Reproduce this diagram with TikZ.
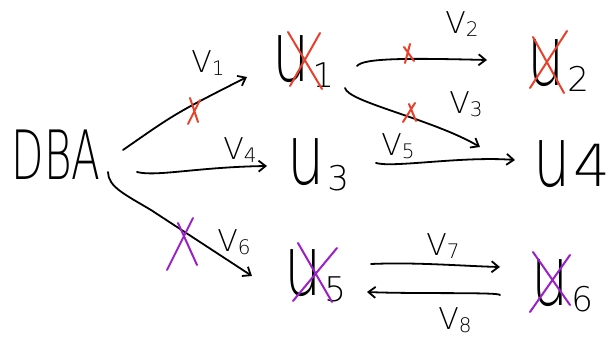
\documentclass[tikz,border=0pt]{standalone}
\usepackage{fontspec}
\setmainfont{DejaVu Sans ExtraLight}
\usetikzlibrary{calc,arrows.meta}
\definecolor{xred}{HTML}{E8402A}
\definecolor{xpurple}{HTML}{9B20C8}
\newcommand{\bigu}{\scalebox{0.7}[1]{\fontsize{84}{84}\selectfont u}}
\newcommand{\unode}[1]{\bigu\hspace{3pt}\raisebox{-6pt}{\fontsize{34}{34}\selectfont #1}}
\newcommand{\vlab}[1]{{\fontsize{30}{30}\selectfont V}\raisebox{-3pt}{\fontsize{20}{20}\selectfont #1}}
\tikzset{
  lbl/.style={inner sep=0pt},
  arr/.style={line width=1.8pt, line cap=round, -{Straight Barb[length=7pt,width=11pt,line width=1.8pt]}},
  redx/.style={xred, line width=2pt, line cap=round},
  purx/.style={xpurple, line width=2pt, line cap=round}
}
\begin{document}
\begin{tikzpicture}[x=1pt,y=-1pt]
\useasboundingbox (0,0) rectangle (613,340);
\fill[white] (0,0) rectangle (613,340);
% nodes
\node[lbl] (dba) at (56,155) {\scalebox{0.62}[1]{\fontsize{68}{68}\selectfont DBA}};
\node[lbl] (u1) at (303,62) {\unode{1}};
\node[lbl] (u2) at (558,66) {\unode{2}};
\node[lbl] (u3) at (318,165) {\unode{3}};
\node[lbl] (u4) at (572,164) {\bigu\hspace{2pt}{\fontsize{58}{58}\selectfont 4}};
\node[lbl] (u5) at (315,276) {\unode{5}};
\node[lbl] (u6) at (562,286) {\unode{6}};
% edge labels
\node[lbl] (l1) at (208,63) {\vlab{1}};
\node[lbl] (l2) at (462,24) {\vlab{2}};
\node[lbl] (l3) at (466,104) {\vlab{3}};
\node[lbl] (l4) at (240,150) {\vlab{4}};
\node[lbl] (l5) at (398,146) {\vlab{5}};
\node[lbl] (l6) at (234,242) {\vlab{6}};
\node[lbl] (l7) at (443,246) {\vlab{7}};
\node[lbl] (l8) at (455,320) {\vlab{8}};
% edges
\draw[arr] ($(dba)+(67,-5)$) .. controls ($(dba)+(120,-42)$) .. ($(u1)+(-56,15)$);
\draw[arr] ($(u1)+(54,4)$) .. controls ($(u1)+(60,-4)$) and ($(u2)+(-150,-8)$) .. ($(u2)+(-71,-6)$);
\draw[arr] ($(u1)+(42,26)$) .. controls ($(u1)+(45,40)$) and ($(u4)+(-140,-45)$) .. ($(u4)+(-92,-17)$);
\draw[arr] ($(dba)+(81,17)$) .. controls ($(dba)+(100,22)$) and ($(u3)+(-120,2)$) .. ($(u3)+(-51,1)$);
\draw[arr] ($(u3)+(58,-2)$) .. controls ($(u3)+(75,3)$) and ($(u4)+(-110,-8)$) .. ($(u4)+(-57,-4)$);
\draw[arr] ($(dba)+(52,17)$) .. controls ($(dba)+(52,32)$) and ($(dba)+(70,40)$) .. ($(dba)+(95,55)$) -- ($(u5)+(-63,0)$);
\draw[arr] ($(u5)+(56,-12)$) .. controls ($(u5)+(100,-14)$) and ($(u6)+(-100,-20)$) .. ($(u6)+(-62,-19)$);
\draw[arr] ($(u6)+(-62,9)$) .. controls ($(u6)+(-62,6)$) and ($(u5)+(100,18)$) .. ($(u5)+(52,16)$);
% crosses
\draw[redx] (288,32) -- (322,89) (320,33) -- (290,86);
\draw[redx] (533,37) -- (564,93) (567,31) -- (530,88);
\draw[redx] (190,98) -- (198,122) (200,100) -- (188,124);
\draw[redx] (404,47) -- (414,61) (410,44) -- (405,63);
\draw[redx] (409,104) -- (416,121) (415,103) -- (403,122);
\draw[purx] (298,243) -- (332,302) (337,248) -- (293,301);
\draw[purx] (533,252) -- (570,305) (570,255) -- (530,312);
\draw[purx] (193,218) -- (167,270) (178,223) -- (197,265);
\end{tikzpicture}
\end{document}
